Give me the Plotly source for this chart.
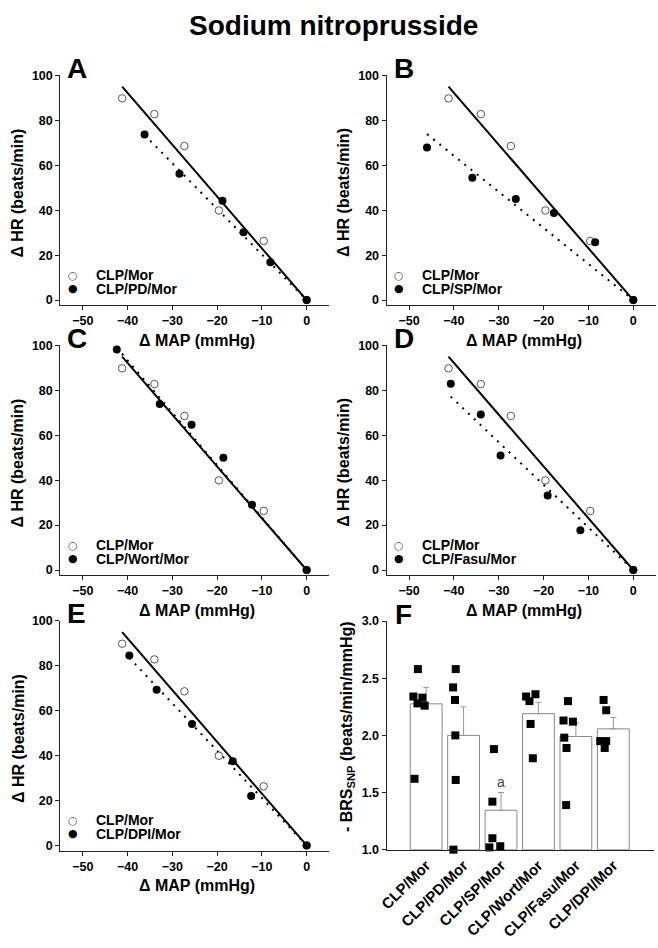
import plotly.graph_objects as go

W, H = 658, 948
FONT = "Liberation Sans, Arial, sans-serif"

# ---------------- data ----------------
# control group CLP/Mor (same in every panel)
map_mor = [-41.2, -34.0, -27.3, -19.6, -9.6, 0]
hr_mor = [89.8, 82.8, 68.6, 39.9, 26.3, 0]
fit_mor_x = [-41.2, 0]
fit_mor_y = [95.0, 0]

group_names = ["CLP/PD/Mor", "CLP/SP/Mor", "CLP/Wort/Mor", "CLP/Fasu/Mor", "CLP/DPI/Mor"]
panel_letters = ["A", "B", "C", "D", "E", "F"]

map_pd = [-36.2, -28.4, -18.8, -14.1, -8.1, 0]
hr_pd = [73.7, 56.2, 44.2, 30.2, 16.8, 0]
fit_pd_x = [-36.2, 0]
fit_pd_y = [73.5, 0]

map_sp = [-46.0, -35.9, -26.2, -17.7, -8.5, 0]
hr_sp = [67.9, 54.5, 45.0, 38.8, 25.7, 0]
fit_sp_x = [-46.0, 0]
fit_sp_y = [73.9, 0]

map_wort = [-42.4, -32.8, -25.7, -18.6, -12.2, 0]
hr_wort = [98.2, 73.9, 64.7, 50.0, 29.1, 0]
fit_wort_x = [-42.4, 0]
fit_wort_y = [99.0, 0]

map_fasu = [-40.7, -34.0, -29.6, -19.1, -11.8, 0]
hr_fasu = [82.9, 69.3, 51.0, 33.2, 17.7, 0]
fit_fasu_x = [-40.7, 0]
fit_fasu_y = [77.2, 0]

map_dpi = [-39.6, -33.5, -25.6, -16.5, -12.4, 0]
hr_dpi = [84.5, 69.3, 54.0, 37.5, 22.0, 0]
fit_dpi_x = [-39.6, 0]
fit_dpi_y = [83.5, 0]

# panel F: -BRS_SNP
bar_cats = ["CLP/Mor", "CLP/PD/Mor", "CLP/SP/Mor", "CLP/Wort/Mor", "CLP/Fasu/Mor", "CLP/DPI/Mor"]
bar_means = [2.276, 2.00, 1.345, 2.19, 1.99, 2.057]
bar_sem = [0.144, 0.25, 0.155, 0.10, 0.12, 0.10]
pts_vals = [
    [2.34, 2.58, 2.33, 2.28, 2.26, 1.62],
    [2.58, 2.42, 2.31, 2.00, 1.61, 1.00],
    [1.88, 1.42, 1.10, 1.02, 1.03],
    [2.34, 2.30, 2.36, 2.10, 1.80],
    [2.30, 2.13, 2.12, 1.98, 1.89, 1.39],
    [2.31, 2.22, 1.95, 1.95, 1.89],
]
pts_jitter = [
    [-0.34, -0.22, -0.10, -0.23, -0.04, -0.31],
    [-0.21, -0.28, -0.23, -0.22, -0.21, -0.27],
    [-0.19, -0.23, -0.23, -0.31, -0.02],
    [-0.33, -0.24, -0.08, -0.21, -0.15],
    [-0.21, -0.33, -0.08, -0.31, -0.25, -0.26],
    [-0.26, -0.19, -0.35, -0.19, -0.23],
]
sig_label = "a"
sig_index = 2
sig_y = 1.59

x_ticks = [-50, -40, -30, -20, -10, 0]
y_ticks = [0, 20, 40, 60, 80, 100]
f_ticks = [1.0, 1.5, 2.0, 2.5, 3.0]

groups = [
    (map_pd, hr_pd, fit_pd_x, fit_pd_y),
    (map_sp, hr_sp, fit_sp_x, fit_sp_y),
    (map_wort, hr_wort, fit_wort_x, fit_wort_y),
    (map_fasu, hr_fasu, fit_fasu_x, fit_fasu_y),
    (map_dpi, hr_dpi, fit_dpi_x, fit_dpi_y),
]

# ---------------- layout geometry (pixels) ----------------
col_x = [(53, 325), (383.3, 655.7)]
row_y = [(69.5, 302.7), (343.5, 576.7), (623, 856.2)]


def xdom(a, b):
    return [a / W, b / W]


def ydom(top, bot):
    return [1 - bot / H, 1 - top / H]


fig = go.Figure()

axis_common = dict(
    showgrid=False, zeroline=False, showline=True, linecolor="#222", linewidth=1.2,
    ticks="outside", ticklen=4, tickwidth=1.2, tickcolor="#222",
    tickfont=dict(family=FONT, size=12.5, color="#000", weight="bold"),
)

layout = dict(
    width=W, height=H, margin=dict(l=0, r=0, t=0, b=0),
    paper_bgcolor="white", plot_bgcolor="white", showlegend=False,
    font=dict(family=FONT, color="#000"),
)

annotations = []

annotations.append(dict(
    text="Sodium nitroprusside", x=329 / W, y=1 - 19 / H, xref="paper", yref="paper",
    showarrow=False, xanchor="center", yanchor="middle",
    font=dict(family=FONT, size=28, weight="bold", color="#000"),
))

for i in range(5):
    r, c = divmod(i, 2)
    n = i + 1
    xa = "x" if n == 1 else f"x{n}"
    ya = "y" if n == 1 else f"y{n}"
    layout["xaxis" if n == 1 else f"xaxis{n}"] = dict(
        axis_common, domain=xdom(*col_x[c]), range=[-55, 5], anchor=ya,
        tickvals=x_ticks,
    )
    layout["yaxis" if n == 1 else f"yaxis{n}"] = dict(
        axis_common, domain=ydom(*row_y[r]), range=[-2.3, 100], anchor=xa,
        tickvals=y_ticks,
    )
    gx, gy, fx, fy = groups[i]
    fig.add_trace(go.Scatter(x=fit_mor_x, y=fit_mor_y, mode="lines", xaxis=xa, yaxis=ya,
                             line=dict(color="black", width=2)))
    fig.add_trace(go.Scatter(x=fx, y=fy, mode="lines", xaxis=xa, yaxis=ya,
                             line=dict(color="black", width=2, dash="2px,6px")))
    fig.add_trace(go.Scatter(x=map_mor, y=hr_mor, mode="markers", xaxis=xa, yaxis=ya, cliponaxis=False,
                             marker=dict(symbol="circle", size=7.5, color="white",
                                         line=dict(color="#555", width=1))))
    fig.add_trace(go.Scatter(x=gx, y=gy, mode="markers", xaxis=xa, yaxis=ya, cliponaxis=False,
                             marker=dict(symbol="circle", size=8, color="black",
                                         line=dict(color="black", width=0))))

    x0, x1 = col_x[c]
    top, bot = row_y[r]
    # panel letter
    annotations.append(dict(
        text=panel_letters[i], x=(x0 + 5) / W, y=1 - (top - 7) / H, xref="paper", yref="paper",
        showarrow=False, xanchor="left", yanchor="middle",
        font=dict(family=FONT, size=28, weight="bold", color="#000"),
    ))
    # y title
    annotations.append(dict(
        text="\u0394 HR (beats/min)", x=(x0 - 43) / W, y=1 - (top + 119) / H, xref="paper", yref="paper",
        showarrow=False, textangle=-90, xanchor="center", yanchor="middle",
        font=dict(family=FONT, size=16, weight="bold", color="#000"),
    ))
    # x title
    annotations.append(dict(
        text="\u0394 MAP (mmHg)", x=(x0 + 138.7) / W, y=1 - (bot + 35.5) / H, xref="paper", yref="paper",
        showarrow=False, xanchor="center", yanchor="middle",
        font=dict(family=FONT, size=16, weight="bold", color="#000"),
    ))
    # legend (symbols + text)
    y0px = bot - 5.2
    for k, (sym, col, lab) in enumerate([("\u25CB", "#555", "CLP/Mor"),
                                         ("\u25CF", "#000", group_names[i])]):
        ypx = y0px - (25.4 if k == 0 else 11.7)
        annotations.append(dict(
            text=sym, x=(x0 + 13) / W, y=1 - ypx / H, xref="paper", yref="paper",
            showarrow=False, xanchor="center", yanchor="middle",
            font=dict(family="DejaVu Sans", size=11, color=col),
        ))
        annotations.append(dict(
            text=lab, x=(x0 + 34) / W, y=1 - ypx / H, xref="paper", yref="paper",
            showarrow=False, xanchor="left", yanchor="middle",
            font=dict(family=FONT, size=14, weight="bold", color="#000"),
        ))

# ---------------- panel F ----------------
fx0, fx1 = 383.3, 654
ftop, fbot = 623.3, 855.3
xs = list(range(len(bar_cats)))
layout["xaxis6"] = dict(
    axis_common, domain=xdom(fx0, fx1), range=[-1.055, 6.088], anchor="y6",
    tickvals=xs, ticktext=bar_cats, tickangle=-45, ticks="",
    tickfont=dict(family=FONT, size=15, color="#000", weight="bold"),
)
layout["yaxis6"] = dict(
    axis_common, domain=ydom(ftop, fbot), range=[1, 3], anchor="x6",
    tickvals=f_ticks, tickformat=".1f",
)
fig.add_trace(go.Bar(
    x=xs, y=[m - 1 for m in bar_means], base=1, width=0.85, xaxis="x6", yaxis="y6",
    marker=dict(color="white", line=dict(color="#888", width=1)),
    error_y=dict(type="data", symmetric=False, array=bar_sem, arrayminus=[0] * len(bar_sem),
                 color="#999", thickness=1, width=3),
))
px_, py_ = [], []
for i, (vals, jit) in enumerate(zip(pts_vals, pts_jitter)):
    for v, j in zip(vals, jit):
        px_.append(i + j)
        py_.append(v)
fig.add_trace(go.Scatter(x=px_, y=py_, mode="markers", xaxis="x6", yaxis="y6", cliponaxis=False,
                         marker=dict(symbol="square", size=8, color="black")))

annotations.append(dict(
    text=sig_label, x=sig_index, y=sig_y, xref="x6", yref="y6", showarrow=False,
    xanchor="center", yanchor="middle", font=dict(family=FONT, size=14, color="#444"),
))
annotations.append(dict(
    text="F", x=(fx0 + 6) / W, y=1 - (ftop - 7) / H, xref="paper", yref="paper",
    showarrow=False, xanchor="left", yanchor="middle",
    font=dict(family=FONT, size=28, weight="bold", color="#000"),
))
annotations.append(dict(
    text="- BRS<sub>SNP</sub> (beats/min/mmHg)", x=343 / W, y=1 - 730 / H, xref="paper", yref="paper",
    showarrow=False, textangle=-90, xanchor="center", yanchor="middle",
    font=dict(family=FONT, size=16, weight="bold", color="#000"),
))

layout["annotations"] = annotations
fig.update_layout(**layout)
fig.write_html("out.html")
